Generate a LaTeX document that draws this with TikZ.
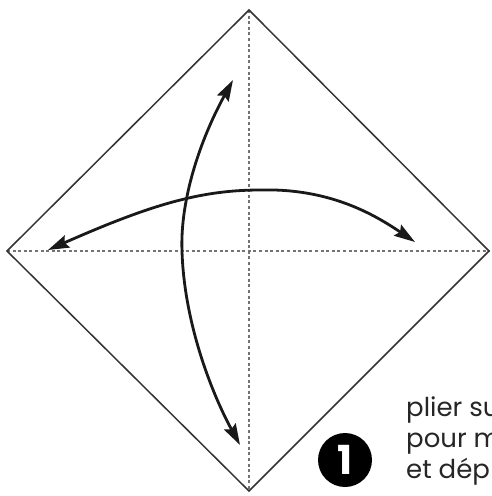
\documentclass[tikz,border=0pt]{standalone}
\usepackage{fontspec}
\setmainfont{Poppins}
\usetikzlibrary{arrows.meta}
\tikzset{
  paper/.style={draw=black!80, line width=1.5pt, line join=miter},
  crease/.style={draw=black!55, line width=1.8pt, dash pattern=on 3pt off 2.6pt},
  foldarrow/.style={draw=black!90, line width=2.8pt, {Stealth[length=21pt,width=13pt,inset=3pt]}-{Stealth[length=21pt,width=13pt,inset=3pt]}},
  caption/.style={anchor=base west, inner sep=0pt, text=black!85, font=\fontsize{26}{26}\selectfont},
  stepnum/.style={circle, fill=black, inner sep=0pt, minimum size=54pt, text=white, font=\fontsize{40}{40}\selectfont\rmfamily\bfseries}
}
\begin{document}
\begin{tikzpicture}[x=1pt,y=-1pt]
\useasboundingbox (0,0) rectangle (491,496);
\clip (0,0) rectangle (491,496);
\fill[white] (0,0) rectangle (491,496);
% vertices of the square
\coordinate (T) at (249,10);
\coordinate (L) at (7,251);
\coordinate (R) at (489,251);
\coordinate (B) at (249,491);
\path[crease] (T) -- (B);
\path[crease] (L) -- (R);
\path[paper] (T) -- (R) -- (B) -- (L) -- cycle;
% fold arrows
\coordinate (a1) at (233,80);
\coordinate (a2) at (182,251);
\coordinate (a3) at (240,445);
\path[foldarrow] (a1) .. controls (200,140) and (180,200) .. (a2) .. controls (184,320) and (210,390) .. (a3);
\coordinate (h1) at (48,250);
\coordinate (h2) at (260,190);
\coordinate (h3) at (415,242);
\path[foldarrow] (h1) .. controls (150,205) and (200,190) .. (h2) .. controls (330,188) and (375,215) .. (h3);
% step number and caption
\node[stepnum] (n1) at (345,460) {1};
\node[caption] (c1) at (406,416) {plier su};
\node[caption] (c2) at (406,447) {pour m};
\node[caption] (c3) at (406,478) {et dép};
\end{tikzpicture}
\end{document}
